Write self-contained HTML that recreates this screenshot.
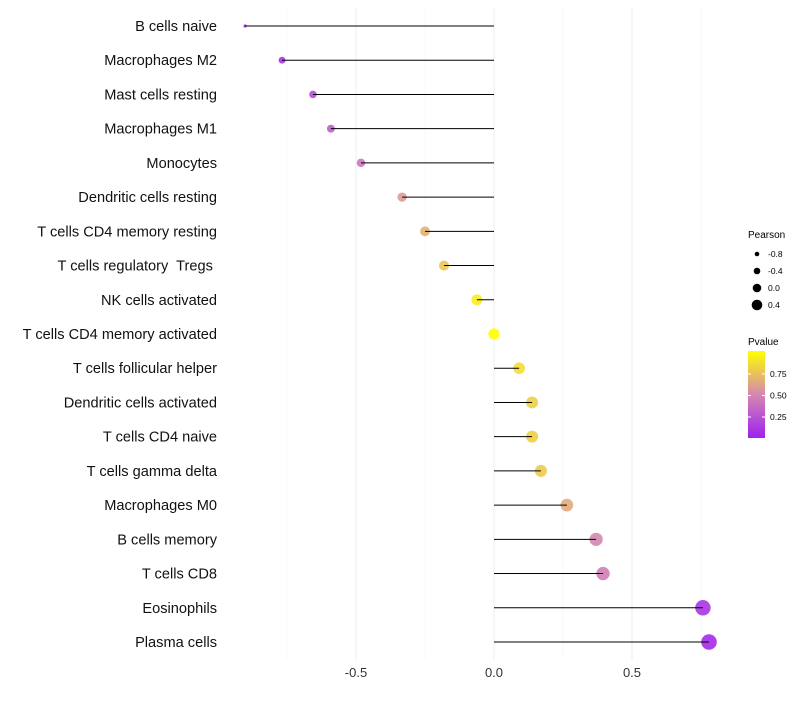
<!DOCTYPE html>
<html><head><meta charset="utf-8"><style>
body{margin:0;background:#fff;font-family:"Liberation Sans",sans-serif}
</style></head><body>
<svg id="chart" width="800" height="700" xmlns="http://www.w3.org/2000/svg">
<g id="grid"></g>
<g id="points"></g>
<g id="marks"></g>
<g id="ylabels"></g>
<g id="xlabels"></g>
<g font-size="9">
<text x="748" y="238" font-size="10">Pearson</text>
<circle cx="757" cy="254" r="2.3" fill="#000"/><text x="768" y="257" font-size="8.5">-0.8</text>
<circle cx="757" cy="271" r="3.3" fill="#000"/><text x="768" y="274" font-size="8.5">-0.4</text>
<circle cx="757" cy="288" r="4.3" fill="#000"/><text x="768" y="291" font-size="8.5">0.0</text>
<circle cx="757" cy="305" r="5.3" fill="#000"/><text x="768" y="308" font-size="8.5">0.4</text>
</g>
<g>
<defs><linearGradient id="pg" x1="0" y1="1" x2="0" y2="0">
<stop offset="0" stop-color="#A020F0"/><stop offset="0.5" stop-color="#D488B0"/><stop offset="1" stop-color="#FFFF00"/></linearGradient></defs>
<text x="748" y="345" font-size="10">Pvalue</text>
<rect x="748" y="351" width="17" height="87" fill="url(#pg)"/>
<g stroke="#fff" stroke-width="1"><line x1="748" x2="751" y1="374" y2="374"/><line x1="762" x2="765" y1="374" y2="374"/><line x1="748" x2="751" y1="395.5" y2="395.5"/><line x1="762" x2="765" y1="395.5" y2="395.5"/><line x1="748" x2="751" y1="417" y2="417"/><line x1="762" x2="765" y1="417" y2="417"/></g>
<text x="770" y="377" font-size="8.5">0.75</text><text x="770" y="398.5" font-size="8.5">0.50</text><text x="770" y="420" font-size="8.5">0.25</text>
</g>
</svg>
<script>
const categories=["B cells naive","Macrophages M2","Mast cells resting","Macrophages M1","Monocytes","Dendritic cells resting","T cells CD4 memory resting","T cells regulatory  Tregs ","NK cells activated","T cells CD4 memory activated","T cells follicular helper","Dendritic cells activated","T cells CD4 naive","T cells gamma delta","Macrophages M0","B cells memory","T cells CD8","Eosinophils","Plasma cells"];
const pearson=[-0.902,-0.768,-0.656,-0.591,-0.482,-0.333,-0.25,-0.181,-0.062,0.0,0.091,0.138,0.138,0.170,0.264,0.370,0.395,0.757,0.779];
const pvalues=[0.05,0.1,0.22,0.3,0.42,0.58,0.68,0.76,0.93,1.0,0.86,0.8,0.8,0.78,0.65,0.5,0.45,0.1,0.05];
const xTicks=[-0.5,0.0,0.5];
const xTickLabels=["-0.5","0.0","0.5"];
const minorTicks=[-0.75,-0.25,0.25,0.75];
const NS="http://www.w3.org/2000/svg";
const xs=v=>494+v*276;
const ys=i=>26+i*(616/18);
const rs=v=>v<-0.85?1.6:Math.max(1.6,5.6+2.8*v);
function lerp(a,b,t){return a.map((x,i)=>Math.round(x+(b[i]-x)*t));}
function col(p){const c0=[160,32,240],c1=[212,136,176],c2=[255,255,0];
const c=p<0.5?lerp(c0,c1,p/0.5):lerp(c1,c2,(p-0.5)/0.5);return `rgb(${c.join(',')})`;}
function mk(t,a,parent){const e=document.createElementNS(NS,t);for(const k in a)e.setAttribute(k,a[k]);parent.appendChild(e);return e;}
const grid=document.getElementById('grid'),marks=document.getElementById('marks'),pts=document.getElementById('points'),yl=document.getElementById('ylabels'),xl=document.getElementById('xlabels');
minorTicks.forEach(v=>{const l=mk('line',{x1:xs(v),x2:xs(v),y1:8,y2:660,stroke:'#f4f4f4','stroke-width':0.6},grid);

});
xTicks.forEach((v,i)=>{const l=mk('line',{x1:xs(v),x2:xs(v),y1:8,y2:660,stroke:'#f0f0f0','stroke-width':1.1},grid);


const t=mk('text',{x:xs(v),y:677,'text-anchor':'middle','font-size':13,fill:'#333'},xl);t.textContent=xTickLabels[i];

});
categories.forEach((c,i)=>{const y=ys(i);
const d=mk('circle',{cx:xs(pearson[i]),cy:y,r:rs(pearson[i]),fill:col(pvalues[i]),'fill-opacity':0.9},pts);


const s=mk('line',{x1:xs(0),x2:xs(pearson[i]),y1:y,y2:y,stroke:'#000','stroke-width':1},marks);


const t=mk('text',{x:217,y:y+5,'text-anchor':'end','font-size':14.6,fill:'#111',style:'white-space:pre'},yl);t.textContent=c;

});
</script>
</body></html>
